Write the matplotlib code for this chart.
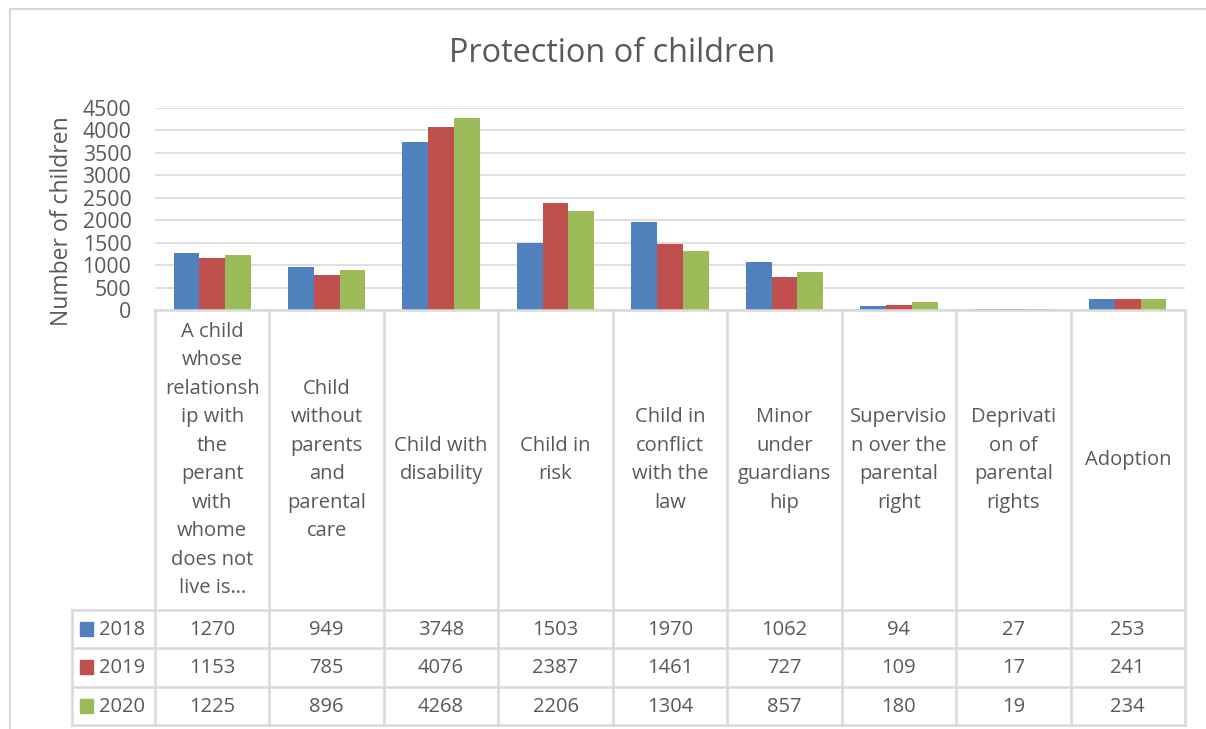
import matplotlib.pyplot as plt
from matplotlib.lines import Line2D
from matplotlib.patches import Rectangle
import numpy as np

plt.rcParams['font.family'] = ['Open Sans', 'DejaVu Sans']

categories = [
    "A child\nwhose\nrelationsh\nip with\nthe\nperant\nwith\nwhome\ndoes not\nlive is…",
    "Child\nwithout\nparents\nand\nparental\ncare",
    "Child with\ndisability",
    "Child in\nrisk",
    "Child in\nconflict\nwith the\nlaw",
    "Minor\nunder\nguardians\nhip",
    "Supervisio\nn over the\nparental\nright",
    "Deprivati\non of\nparental\nrights",
    "Adoption",
]
years = ["2018", "2019", "2020"]
v2018 = [1270, 949, 3748, 1503, 1970, 1062, 94, 27, 253]
v2019 = [1153, 785, 4076, 2387, 1461, 727, 109, 17, 241]
v2020 = [1225, 896, 4268, 2206, 1304, 857, 180, 19, 234]
series = [v2018, v2019, v2020]
colors = ["#4F81BD", "#C0504D", "#9BBB59"]

W, H = 1206, 729
fig = plt.figure(figsize=(W / 100, H / 100), dpi=100)
txt = "#595959"
grid_c = "#D9D9D9"

# bars
ax = fig.add_axes([155 / W, 1 - 310 / H, (1185 - 155) / W, (310 - 108) / H])
x = np.arange(len(categories))
bw = 0.225
for i, (vals, c) in enumerate(zip(series, colors)):
    ax.bar(x + (i - 1) * bw, vals, bw, color=c, zorder=3)
ax.set_xlim(-0.5, len(categories) - 0.5)
ax.set_ylim(0, 4500)
ax.set_yticks(np.arange(0, 4501, 500))
ax.yaxis.grid(True, color=grid_c, linewidth=1.2, zorder=0)
ax.set_xticks([])
for s in ax.spines.values():
    s.set_visible(False)
ax.tick_params(axis="y", length=0, pad=17, labelsize=15.3, labelcolor=txt)
ax.set_ylabel("Number of children", fontsize=16.5, color=txt)
ax.yaxis.set_label_coords(-(155 - 62) / (1185 - 155), (310 - 221) / 202)
ax.yaxis.label.set_va("center")

fig.text(612 / W, 1 - 53 / H, "Protection of children", ha="center", va="center",
         fontsize=23.4, color=txt)

# data table underneath
tx = fig.add_axes([155 / W, 1 - 725 / H, (1185 - 155) / W, (725 - 310) / H])
tx.set_xlim(-0.5, len(categories) - 0.5)
tx.set_ylim(725, 310)
tx.axis("off")
col_w = (1185 - 155) / len(categories)
left_x = -0.5 - (155 - 72) / col_w
row_y = [610, 648, 687, 725]
lw = 1.8
for k in range(len(categories) + 1):
    tx.add_line(Line2D([k - 0.5, k - 0.5], [310, 725], color=grid_c, lw=lw, clip_on=False))
tx.add_line(Line2D([-0.5, len(categories) - 0.5], [310, 310], color=grid_c, lw=lw, clip_on=False))
for y in row_y:
    tx.add_line(Line2D([left_x, len(categories) - 0.5], [y, y], color=grid_c, lw=lw, clip_on=False))
tx.add_line(Line2D([left_x, left_x], [610, 725], color=grid_c, lw=lw, clip_on=False))

for k, cat in enumerate(categories):
    tx.text(k, 460, cat, ha="center", va="center", fontsize=14.5, color=txt,
            linespacing=1.57, clip_on=False)

for r, (yr, vals, c) in enumerate(zip(years, series, colors)):
    yc = (row_y[r] + row_y[r + 1]) / 2
    sq = 13 / col_w
    tx.add_patch(Rectangle((left_x + 8 / col_w, yc - 7), sq, 14, color=c, clip_on=False))
    tx.text(left_x + 27 / col_w, yc + 1, yr, ha="left", va="center", fontsize=14.5,
            color=txt, clip_on=False)
    for k, v in enumerate(vals):
        tx.text(k, yc + 1, str(v), ha="center", va="center", fontsize=14.5, color=txt,
                clip_on=False)

# outer chart border (only left and top visible)
fig.add_artist(Line2D([10 / W, 10 / W], [0, 1 - 9 / H], color=grid_c, lw=1.5))
fig.add_artist(Line2D([10 / W, 1], [1 - 9 / H, 1 - 9 / H], color=grid_c, lw=1.5))

fig.savefig("out.png", dpi=100, facecolor="white")
